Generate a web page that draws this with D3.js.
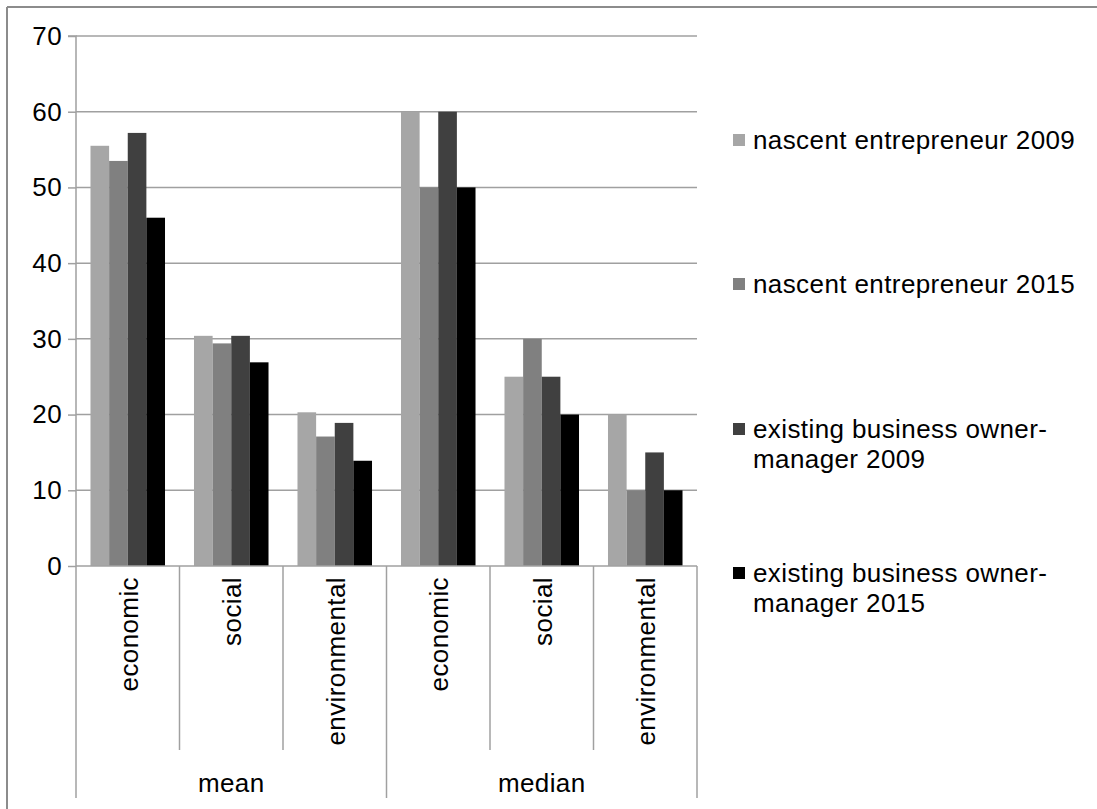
<!DOCTYPE html>
<html>
<head>
<meta charset="utf-8">
<script src="https://cdn.jsdelivr.net/npm/d3@7"></script>
<style>
  html, body { margin: 0; padding: 0; background: #fff; }
  svg { display: block; font-family: "Liberation Sans", Arial, sans-serif; }
  svg text { letter-spacing: 0.4px; }
</style>
</head>
<body>
<svg id="chart" width="1097" height="809"></svg>
<script>
// ---- data ----
const groups = ["mean", "median"];
const categories = ["economic", "social", "environmental"];
const seriesNames = [
  "nascent entrepreneur 2009",
  "nascent entrepreneur 2015",
  "existing business owner-manager 2009",
  "existing business owner-manager 2015"
];
const legendLines = [
  ["nascent entrepreneur 2009"],
  ["nascent entrepreneur 2015"],
  ["existing business owner-", "manager 2009"],
  ["existing business owner-", "manager 2015"]
];
const seriesColors = ["#a6a6a6", "#808080", "#404040", "#000000"];
// values per series, in order: mean economic, social, environmental, median economic, social, environmental
const nascent2009 = [55.5, 30.4, 20.3, 60, 25, 20];
const nascent2015 = [53.5, 29.4, 17.1, 50, 30, 10];
const existing2009 = [57.2, 30.4, 18.9, 60, 25, 15];
const existing2015 = [46.0, 26.9, 13.9, 50, 20, 10];
const seriesValues = [nascent2009, nascent2015, existing2009, existing2015];
const yTicks = [0, 10, 20, 30, 40, 50, 60, 70];

// ---- layout ----
const svg = d3.select("#chart");
const plotLeft = 76, plotRight = 697, plotTop = 36, plotBottom = 566;
const lineColor = "#a0a0a0";
const fontSize = 26;

const slots = [];
groups.forEach(g => categories.forEach(c => slots.push(g + "|" + c)));

const x0 = d3.scaleBand().domain(slots).range([plotLeft, plotRight]).padding(0);
const bw = x0.bandwidth();
const x1 = d3.scaleBand().domain(seriesNames).range([bw * 0.14, bw * 0.86]).padding(0);
const y = d3.scaleLinear().domain([0, 70]).range([plotBottom, plotTop]);

// outer border (top and left)
svg.append("line").attr("x1", 7).attr("x2", 1097).attr("y1", 7).attr("y2", 7)
  .attr("stroke", "#8c8c8c").attr("stroke-width", 2);
svg.append("line").attr("x1", 7).attr("x2", 7).attr("y1", 7).attr("y2", 809)
  .attr("stroke", "#8c8c8c").attr("stroke-width", 2);

// gridlines
svg.append("g").selectAll("line").data(yTicks.filter(t => t > 0)).join("line")
  .attr("x1", plotLeft).attr("x2", plotRight)
  .attr("y1", d => y(d)).attr("y2", d => y(d))
  .attr("stroke", lineColor).attr("stroke-width", 1.5);

// y axis
const yAxis = d3.axisLeft(y).tickValues(yTicks).tickSize(8).tickPadding(6).tickFormat(d3.format("d"));
const yg = svg.append("g").attr("transform", `translate(${plotLeft},0)`).call(yAxis);
yg.select(".domain").attr("stroke", lineColor).attr("stroke-width", 1.5)
  .attr("d", `M-8,${plotTop}H0V${plotBottom}`);
yg.selectAll(".tick line").attr("stroke", lineColor).attr("stroke-width", 1.5);
yg.selectAll(".tick text").attr("font-size", fontSize).attr("fill", "#000")
  .attr("font-family", "Liberation Sans, Arial, sans-serif");

// bars
const barData = [];
seriesNames.forEach((s, si) => {
  slots.forEach((slot, ci) => {
    barData.push({ series: s, si, slot, value: seriesValues[si][ci] });
  });
});
svg.append("g").selectAll("rect").data(barData).join("rect")
  .attr("x", d => x0(d.slot) + x1(d.series))
  .attr("width", x1.bandwidth())
  .attr("y", d => y(d.value))
  .attr("height", d => y(0) - y(d.value))
  .attr("fill", d => seriesColors[d.si]);

// x axis line
svg.append("line").attr("x1", plotLeft).attr("x2", plotRight).attr("y1", plotBottom).attr("y2", plotBottom)
  .attr("stroke", lineColor).attr("stroke-width", 1.5);

// category separators
const innerBottom = 750, outerBottom = 798;
const sepX = d3.range(slots.length + 1).map(i => i < slots.length ? x0(slots[i]) : plotRight);
svg.append("g").selectAll("line").data(sepX).join("line")
  .attr("x1", d => d).attr("x2", d => d)
  .attr("y1", plotBottom)
  .attr("y2", (d, i) => (i % categories.length === 0) ? outerBottom : innerBottom)
  .attr("stroke", lineColor).attr("stroke-width", 1.5);

// category labels (rotated)
svg.append("g").selectAll("text").data(slots).join("text")
  .attr("transform", d => `translate(${x0(d) + bw / 2 + 10},${plotBottom + 11}) rotate(-90)`)
  .attr("text-anchor", "end")
  .attr("font-size", fontSize)
  .attr("fill", "#000")
  .text(d => d.split("|")[1]);

// group labels
const xg = d3.scaleBand().domain(groups).range([plotLeft, plotRight]);
svg.append("g").selectAll("text").data(groups).join("text")
  .attr("x", d => xg(d) + xg.bandwidth() / 2)
  .attr("y", 792)
  .attr("text-anchor", "middle")
  .attr("font-size", fontSize)
  .attr("fill", "#000")
  .text(d => d);

// legend
const legendCenters = [140, 284, 429, 573];
const lg = svg.append("g");
legendLines.forEach((lines, i) => {
  const cy = legendCenters[i];
  lg.append("rect").attr("x", 733).attr("y", cy - 6).attr("width", 12).attr("height", 12)
    .attr("fill", seriesColors[i]);
  lines.forEach((ln, j) => {
    lg.append("text").attr("x", 753).attr("y", cy + 9 + j * 30)
      .attr("font-size", fontSize).attr("fill", "#000").text(ln);
  });
});
</script>
</body>
</html>
